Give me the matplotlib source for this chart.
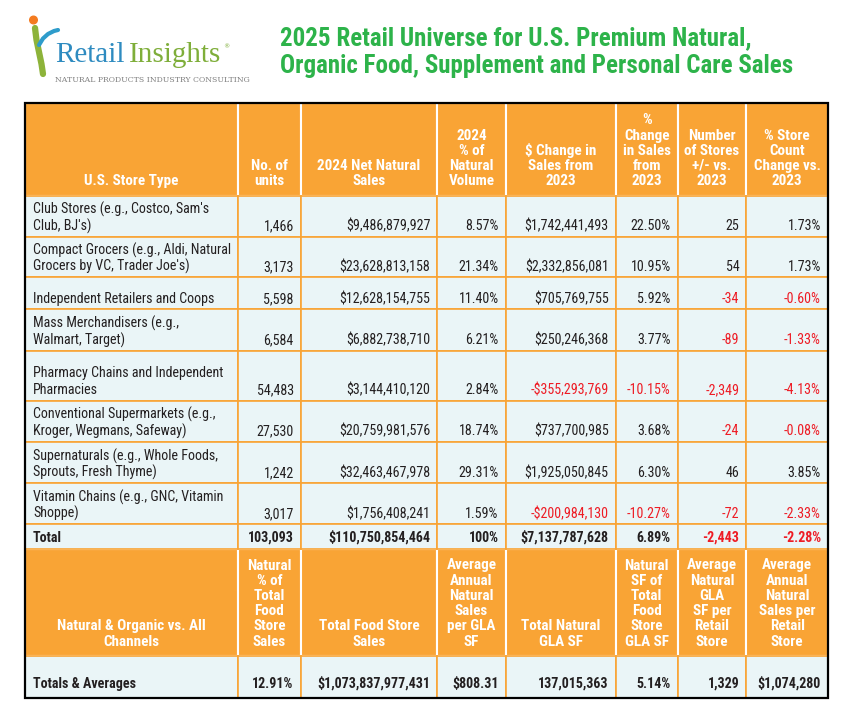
import matplotlib
matplotlib.use("Agg")
import matplotlib.pyplot as plt
from matplotlib.patches import Rectangle, Circle
from matplotlib import font_manager as fm
from matplotlib.font_manager import FontProperties

# ---------------- data ----------------
store_types = [
    "Club Stores (e.g., Costco, Sam's\nClub, BJ's)",
    "Compact Grocers (e.g., Aldi, Natural\nGrocers by VC, Trader Joe's)",
    "Independent Retailers and Coops",
    "Mass Merchandisers (e.g.,\nWalmart, Target)",
    "Pharmacy Chains and Independent\nPharmacies",
    "Conventional Supermarkets (e.g.,\nKroger, Wegmans, Safeway)",
    "Supernaturals (e.g., Whole Foods,\nSprouts, Fresh Thyme)",
    "Vitamin Chains (e.g., GNC, Vitamin\nShoppe)",
]
units = [1466, 3173, 5598, 6584, 54483, 27530, 1242, 3017]
net_sales = [9486879927, 23628813158, 12628154755, 6882738710,
             3144410120, 20759981576, 32463467978, 1756408241]
pct_volume = [8.57, 21.34, 11.40, 6.21, 2.84, 18.74, 29.31, 1.59]
dollar_change = [1742441493, 2332856081, 705769755, 250246368,
                 -355293769, 737700985, 1925050845, -200984130]
pct_change = [22.50, 10.95, 5.92, 3.77, -10.15, 3.68, 6.30, -10.27]
store_delta = [25, 54, -34, -89, -2349, -24, 46, -72]
store_pct = [1.73, 1.73, -0.60, -1.33, -4.13, -0.08, 3.85, -2.33]

total_label = "Total"
total_units = 103093
total_sales = 110750854464
total_pct_volume = 100
total_dollar_change = 7137787628
total_pct_change = 6.89
total_store_delta = -2443
total_store_pct = -2.28

headers_top = ["U.S. Store Type", "No. of\nunits", "2024 Net Natural\nSales",
               "2024\n% of\nNatural\nVolume", "$ Change in\nSales from\n2023",
               "%\nChange\nin Sales\nfrom\n2023", "Number\nof Stores\n+/- vs.\n2023",
               "% Store\nCount\nChange vs.\n2023"]
headers_bottom = ["Natural & Organic vs. All\nChannels", "Natural\n% of\nTotal\nFood\nStore\nSales",
                  "Total Food Store\nSales", "Average\nAnnual\nNatural\nSales\nper GLA\nSF",
                  "Total Natural\nGLA SF", "Natural\nSF of\nTotal\nFood\nStore\nGLA SF",
                  "Average\nNatural\nGLA\nSF per\nRetail\nStore",
                  "Average\nAnnual\nNatural\nSales per\nRetail\nStore"]
summary_label = "Totals & Averages"
summary_values = ["12.91%", "$1,073,837,977,431", "$808.31", "137,015,363",
                  "5.14%", "1,329", "$1,074,280"]

title = "2025 Retail Universe for U.S. Premium Natural,\nOrganic Food, Supplement and Personal Care Sales"

# ---------------- styling ----------------
ORANGE = "#F9A435"
CELL = "#EAF5F7"
RED = "#EE1C25"
TXT = "#231F20"
GREEN = "#2DB34A"

COND = ("condensed", "semi-condensed", "extra-condensed", "ultra-condensed")


def wnum(w):
    if isinstance(w, (int, float)):
        return w
    return fm.weight_dict.get(str(w).lower(), 400)


def find_font(bold):
    entries = [f for f in fm.fontManager.ttflist if f.style == "normal"]
    prefs = ["Roboto Condensed", "Liberation Sans Narrow", "Noto Sans", "Open Sans",
             "DejaVu Sans", "Lato", "Inter", "Roboto"]
    target = 700 if bold else 400
    for p in prefs:
        m = [f for f in entries if f.name.startswith(p)
             and "Mono" not in f.name and "Serif" not in f.name
             and (f.stretch in COND or "Condensed" in f.name or "Narrow" in f.name)
             and "Extra" not in f.name and "Semi" not in f.name]
        if m:
            return min(m, key=lambda f: abs(wnum(f.weight) - target)).fname
    return None


reg_path = find_font(False)
bold_path = find_font(True)


def fprop(bold, size):
    path = bold_path if bold else reg_path
    if path:
        return FontProperties(fname=path, size=size)
    return FontProperties(family="DejaVu Sans", weight="bold" if bold else "normal", size=size)


fig = plt.figure(figsize=(8.5, 7.15), dpi=100)
ax = fig.add_axes([0, 0, 1, 1])
ax.set_xlim(0, 850)
ax.set_ylim(715, 0)
ax.axis("off")
renderer = fig.canvas.get_renderer()


def width_px(s, fp):
    w, h, d = renderer.get_text_width_height_descent(s, fp, ismath=False)
    return w


def fit_size(s, bold, target_w, max_size, base=10.0):
    w = width_px(s, fprop(bold, base))
    return min(max_size, base * target_w / w)


FS = fit_size("Compact Grocers (e.g., Aldi, Natural", False, 198, 11.0)
FSB_H = fit_size("2024 Net Natural", True, 103, 11.0)
FSB_V = fit_size("$1,073,837,977,431", True, 114, 11.0)
FS_TITLE = fit_size("Organic Food, Supplement and Personal Care Sales", True, 514, 22.0)

xb = [25, 238, 300.7, 437.3, 505.7, 615.7, 677.7, 746.3, 828]
yb = [103, 195.7, 236.7, 277.3, 309.3, 350.7, 400.7, 441.7, 483.3, 524.3, 548.7, 656, 698]

LH = 16.7


def put(x, ybase, s, ha="left", color=TXT, bold=False, fs=None, lh=LH):
    fs = fs or FS
    lines = s.split("\n")
    n = len(lines)
    for i, ln in enumerate(lines):
        ax.text(x, ybase - (n - 1 - i) * lh, ln, ha=ha, va="baseline",
                color=color, fontproperties=fprop(bold, fs))


def fmt_money(v):
    return ("-$" if v < 0 else "$") + f"{abs(v):,}"


def fmt_pct(v):
    return f"{v:.2f}%"


def col(v):
    return RED if v < 0 else TXT


# header rows
for (r0, r1, hdrs) in [(0, 1, headers_top), (10, 11, headers_bottom)]:
    for c in range(8):
        ax.add_patch(Rectangle((xb[c], yb[r0]), xb[c + 1] - xb[c], yb[r1] - yb[r0],
                               facecolor=ORANGE, edgecolor="white", lw=1.5))
        put((xb[c] + xb[c + 1]) / 2, yb[r1] - 10.5, hdrs[c], ha="center",
            color="white", bold=True, fs=FSB_H, lh=15.2)

# body rows
body_rows = list(range(1, 10)) + [11]
for r in body_rows:
    for c in range(8):
        ax.add_patch(Rectangle((xb[c], yb[r]), xb[c + 1] - xb[c], yb[r + 1] - yb[r],
                               facecolor=CELL, edgecolor=ORANGE, lw=1.2))

PAD = 7
for i in range(len(store_types)):
    base = yb[i + 2] - 6.5
    vals = [(f"{units[i]:,}", TXT), (fmt_money(net_sales[i]), TXT),
            (fmt_pct(pct_volume[i]), TXT), (fmt_money(dollar_change[i]), col(dollar_change[i])),
            (fmt_pct(pct_change[i]), col(pct_change[i])),
            (f"{store_delta[i]:,}", col(store_delta[i])), (fmt_pct(store_pct[i]), col(store_pct[i]))]
    put(xb[0] + 8, base, store_types[i])
    for c, (s, cl) in enumerate(vals, start=1):
        put(xb[c + 1] - PAD, base, s, ha="right", color=cl)

# total row
base = yb[10] - 7
tvals = [(f"{total_units:,}", TXT), (fmt_money(total_sales), TXT), (f"{total_pct_volume}%", TXT),
         (fmt_money(total_dollar_change), col(total_dollar_change)),
         (fmt_pct(total_pct_change), col(total_pct_change)),
         (f"{total_store_delta:,}", col(total_store_delta)), (fmt_pct(total_store_pct), col(total_store_pct))]
put(xb[0] + 8, base, total_label, bold=True, fs=FSB_V)
for c, (s, cl) in enumerate(tvals, start=1):
    put(xb[c + 1] - PAD, base, s, ha="right", color=cl, bold=True, fs=FSB_V)

# summary row
base = yb[12] - 10
put(xb[0] + 8, base, summary_label, bold=True, fs=FSB_V)
for c, s in enumerate(summary_values, start=1):
    put(xb[c + 1] - PAD, base, s, ha="right", bold=True, fs=FSB_V)

# outer border
ax.add_patch(Rectangle((xb[0], yb[0]), xb[-1] - xb[0], yb[-1] - yb[0],
                       facecolor="none", edgecolor="black", lw=1.6, zorder=5))

# title
tl = title.split("\n")
ax.text(280, 45.5, tl[0], ha="left", va="baseline", color=GREEN,
        fontproperties=fprop(True, FS_TITLE))
ax.text(280, 72.5, tl[1], ha="left", va="baseline", color=GREEN,
        fontproperties=fprop(True, FS_TITLE))

# logo
ax.add_patch(Circle((33.5, 20), 3.8, color="#F47B20", zorder=3))
ax.plot([35, 36.5, 39, 41.5, 43], [28, 40, 52, 64, 74], color="#8DB33A", lw=4.5,
        solid_capstyle="round")
ax.plot([39, 43, 48, 54, 58], [45, 38.5, 34, 31, 30], color="#2E9CCB", lw=3,
        solid_capstyle="round")
LOGO_FAM = "Liberation Serif"
fs_r = 10 * 70 / width_px("Retail", FontProperties(family=LOGO_FAM, size=10))
fs_i = 10 * 92 / width_px("Insights", FontProperties(family=LOGO_FAM, size=10))
ax.text(55, 62, "Retail", color="#2E8BC0", va="baseline",
        fontproperties=FontProperties(family=LOGO_FAM, size=fs_r))
ax.text(129, 62, "Insights", color="#7FAE3A", va="baseline",
        fontproperties=FontProperties(family=LOGO_FAM, size=fs_i))
ax.text(223, 48, "®", color="#7FAE3A", fontsize=4.5, va="baseline")
sub = "NATURAL PRODUCTS INDUSTRY CONSULTING"
fs_s = 5 * 195 / width_px(sub, FontProperties(family="DejaVu Serif", size=5))
ax.text(55, 82, sub, color="#808080", va="baseline",
        fontproperties=FontProperties(family="DejaVu Serif", size=fs_s))

fig.savefig("out.png", dpi=100, facecolor="white")
